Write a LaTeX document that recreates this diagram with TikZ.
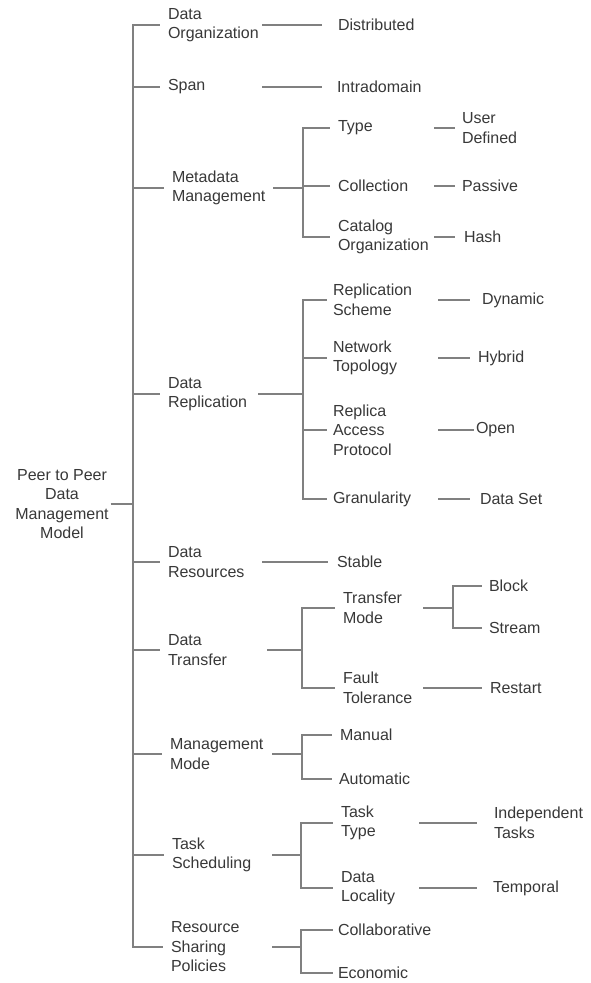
\documentclass[tikz,border=0pt]{standalone}
\usepackage{fontspec}
\setmainfont{Liberation Sans}
\definecolor{ink}{HTML}{383838}
\definecolor{wire}{HTML}{808080}
\begin{document}
\begin{tikzpicture}[x=1pt,y=-1pt,
  lbl/.style={inner sep=0pt, outer xsep=#1, anchor=west, align=left,
    text=ink, font=\fontsize{16}{19.5}\selectfont},
  lbl/.default=8pt,
  rootlbl/.style={inner sep=0pt, outer xsep=2pt, align=center,
    text=ink, font=\fontsize{16}{19.5}\selectfont},
  link/.style={draw=wire, line width=1.2pt}]
\useasboundingbox (0,0) rectangle (590,983);

% root
\node[rootlbl] (root) at (62,504) {Peer to Peer\\Data\\Management\\Model};
\coordinate (j0) at (133,504);

% first level
\node[lbl, text width=86pt] (dorg) at (160,25)  {Data\\Organization};
\node[lbl, text width=86pt] (span) at (160,87)  {Span};
\node[lbl, text width=93pt] (meta) at (164,188) {Metadata\\Management};
\node[lbl, text width=82pt] (repl) at (160,394) {Data\\Replication};
\node[lbl, text width=86pt] (dres) at (160,562) {Data\\Resources};
\node[lbl, text width=91pt] (dtra) at (160,650) {Data\\Transfer};
\node[lbl, text width=94pt] (mgmt) at (162,754) {Management\\Mode};
\node[lbl, text width=92pt] (task) at (164,855) {Task\\Scheduling};
\node[lbl, text width=93pt] (rsp)  at (163,947) {Resource\\Sharing\\Policies};

% junctions of the sub-trees
\coordinate (jmeta) at (303,188);
\coordinate (jrepl) at (303,394);
\coordinate (jdtra) at (302,650);
\coordinate (jmgmt) at (302,754);
\coordinate (jtask) at (301,855);
\coordinate (jrsp)  at (301,947);
\coordinate (jtm)   at (453,608);

% second level
\node[lbl, text width=88pt] (type) at (330,128) {Type};
\node[lbl, text width=88pt] (coll) at (330,186) {Collection};
\node[lbl, text width=88pt] (cato) at (330,237) {Catalog\\Organization};

\node[lbl=6pt, text width=99pt] (rsch) at (327,300) {Replication\\Scheme};
\node[lbl=6pt, text width=99pt] (ntop) at (327,358) {Network\\Topology};
\node[lbl=6pt, text width=99pt] (rap)  at (327,430) {Replica\\Access\\Protocol};
\node[lbl=6pt, text width=99pt] (gran) at (327,499) {Granularity};

\node[lbl, text width=72pt] (tmode) at (335,608) {Transfer\\Mode};
\node[lbl, text width=72pt] (ftol)  at (335,688) {Fault\\Tolerance};

\node[lbl] (manual) at (332,735) {Manual};
\node[lbl=7pt] (auto) at (332,779) {Automatic};

\node[lbl, text width=70pt] (ttype) at (333,823) {Task\\Type};
\node[lbl, text width=70pt] (dloc)  at (333,888) {Data\\Locality};

\node[lbl=5pt] (collab) at (333,930) {Collaborative};
\node[lbl=5pt] (econ)   at (333,973) {Economic};

% leaves
\node[lbl=16pt] (distr)  at (322,25)  {Distributed};
\node[lbl=15pt] (intra)  at (322,87)  {Intradomain};
\node[lbl=7pt]  (udef)   at (455,128) {User\\Defined};
\node[lbl=7pt]  (pass)   at (455,186) {Passive};
\node[lbl=9pt]  (hash)   at (455,237) {Hash};
\node[lbl=12pt] (dyn)    at (470,300) {Dynamic};
\node[lbl=8pt]  (hyb)    at (470,358) {Hybrid};
\node[lbl=2pt]  (open)   at (474,430) {Open};
\node[lbl=10pt] (dset)   at (470,499) {Data Set};
\node[lbl=9pt]  (stable) at (328,562) {Stable};
\node[lbl=7pt]  (block)  at (482,586) {Block};
\node[lbl=7pt]  (stream) at (482,628) {Stream};
\node[lbl=8pt]  (restart) at (482,688) {Restart};
\node[lbl=17pt] (indep)  at (477,823) {Independent\\Tasks};
\node[lbl=16pt] (temp)   at (477,888) {Temporal};

% trunk and first-level branches
\draw[link] (root.east) -- (j0);
\foreach \n in {dorg,span,meta,repl,dres,dtra,mgmt,task,rsp}
  \draw[link] (j0) |- (\n.west);

% single-child branches
\draw[link] (dorg.east) -- (distr.west);
\draw[link] (span.east) -- (intra.west);
\draw[link] (dres.east) -- (stable.west);

% metadata management
\draw[link] (meta.east) -- (jmeta);
\foreach \n in {type,coll,cato} \draw[link] (jmeta) |- (\n.west);
\draw[link] (type.east) -- (udef.west);
\draw[link] (coll.east) -- (pass.west);
\draw[link] (cato.east) -- (hash.west);

% data replication
\draw[link] (repl.east) -- (jrepl);
\foreach \n in {rsch,ntop,rap,gran} \draw[link] (jrepl) |- (\n.west);
\draw[link] (rsch.east) -- (dyn.west);
\draw[link] (ntop.east) -- (hyb.west);
\draw[link] (rap.east)  -- (open.west);
\draw[link] (gran.east) -- (dset.west);

% data transfer
\draw[link] (dtra.east) -- (jdtra);
\foreach \n in {tmode,ftol} \draw[link] (jdtra) |- (\n.west);
\draw[link] (tmode.east) -- (jtm);
\foreach \n in {block,stream} \draw[link] (jtm) |- (\n.west);
\draw[link] (ftol.east) -- (restart.west);

% management mode
\draw[link] (mgmt.east) -- (jmgmt);
\foreach \n in {manual,auto} \draw[link] (jmgmt) |- (\n.west);

% task scheduling
\draw[link] (task.east) -- (jtask);
\foreach \n in {ttype,dloc} \draw[link] (jtask) |- (\n.west);
\draw[link] (ttype.east) -- (indep.west);
\draw[link] (dloc.east)  -- (temp.west);

% resource sharing policies
\draw[link] (rsp.east) -- (jrsp);
\foreach \n in {collab,econ} \draw[link] (jrsp) |- (\n.west);
\end{tikzpicture}
\end{document}
